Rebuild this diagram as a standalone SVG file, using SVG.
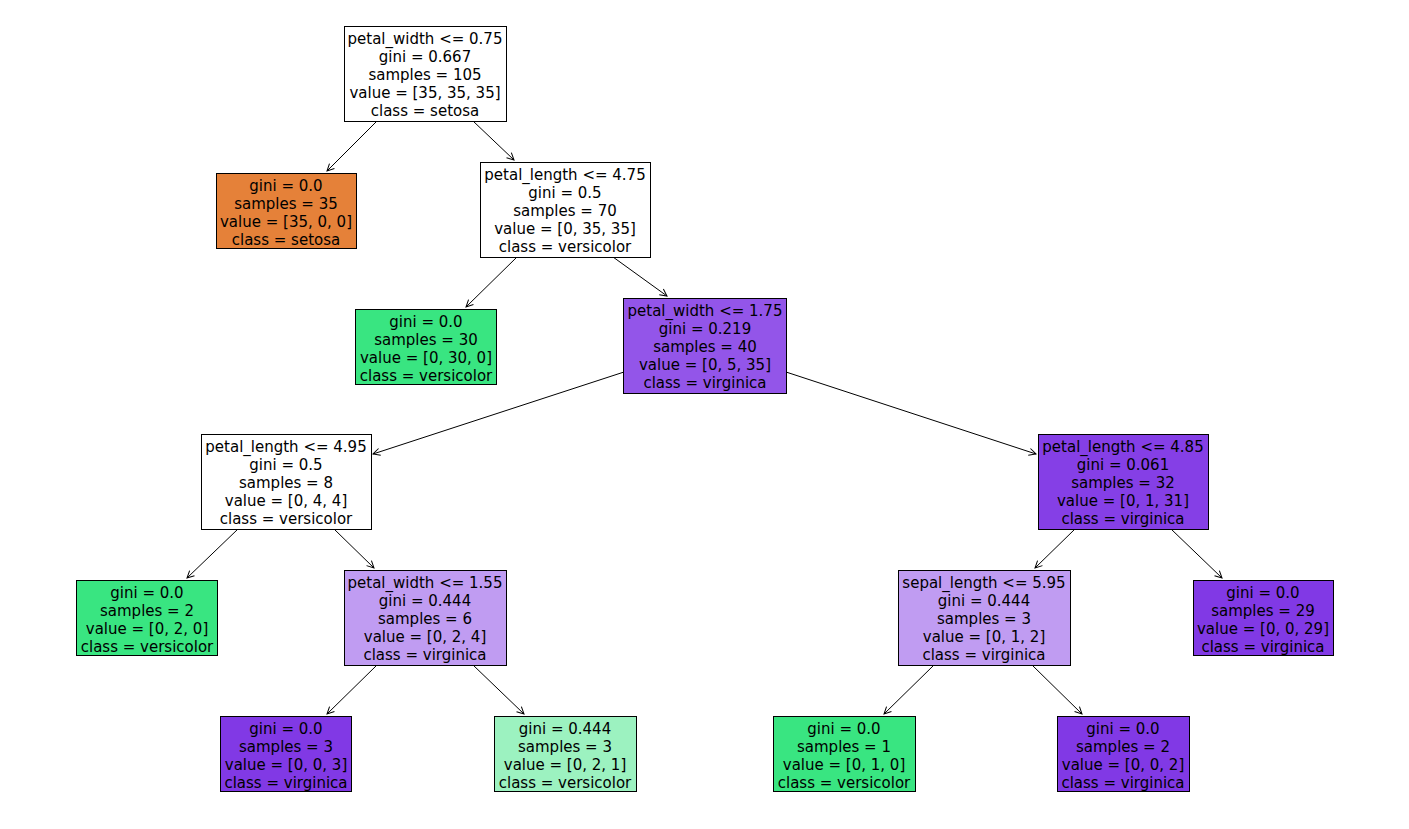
<svg xmlns="http://www.w3.org/2000/svg" width="1409" height="829" viewBox="0 0 1409 829">
<defs>
<marker id="arr" markerUnits="userSpaceOnUse" markerWidth="12" markerHeight="12" refX="7" refY="5" orient="auto" overflow="visible">
<path d="M0,1.5 L7,5 L0,8.5" fill="none" stroke="#000" stroke-width="1"/>
</marker>
</defs>
<style>
rect{stroke:#000;stroke-width:1}
text{font-family:"DejaVu Sans",sans-serif;font-size:15px;fill:#000;text-anchor:middle}
#edges line{stroke:#000;stroke-width:1;marker-end:url(#arr)}
</style>
<rect x="0" y="0" width="1409" height="829" fill="#fff" style="stroke:none"/>
<g id="edges">
<line x1="377" y1="121" x2="327" y2="171"/>
<line x1="473" y1="121" x2="514" y2="160"/>
<line x1="517" y1="257" x2="466" y2="307"/>
<line x1="613" y1="257" x2="667" y2="296"/>
<line x1="624" y1="372" x2="373" y2="454"/>
<line x1="786" y1="372" x2="1036" y2="454"/>
<line x1="238" y1="529" x2="187" y2="578"/>
<line x1="334" y1="529" x2="374" y2="568"/>
<line x1="1075" y1="529" x2="1035" y2="568"/>
<line x1="1171" y1="529" x2="1222" y2="578"/>
<line x1="377" y1="665" x2="327" y2="714"/>
<line x1="473" y1="665" x2="524" y2="714"/>
<line x1="934" y1="665" x2="884" y2="714"/>
<line x1="1032" y1="665" x2="1082" y2="714"/>
</g>
<g id="n0"><rect x="344.5" y="26.5" width="162" height="95" fill="#ffffff"/>
<text x="425" y="43.5">petal_width &lt;= 0.75</text><text x="425" y="61.7">gini = 0.667</text><text x="425" y="79.9">samples = 105</text><text x="425" y="98.1">value = [35, 35, 35]</text><text x="425" y="116.3">class = setosa</text></g>
<g id="n1"><rect x="216.5" y="173.5" width="140" height="75" fill="#e58139"/>
<text x="286" y="190.5">gini = 0.0</text><text x="286" y="208.7">samples = 35</text><text x="286" y="226.9">value = [35, 0, 0]</text><text x="286" y="245.1">class = setosa</text></g>
<g id="n2"><rect x="480.5" y="162.5" width="170" height="95" fill="#ffffff"/>
<text x="565" y="179.5">petal_length &lt;= 4.75</text><text x="565" y="197.7">gini = 0.5</text><text x="565" y="215.9">samples = 70</text><text x="565" y="234.1">value = [0, 35, 35]</text><text x="565" y="252.3">class = versicolor</text></g>
<g id="n3"><rect x="355.5" y="309.5" width="141" height="75" fill="#39e581"/>
<text x="426" y="326.5">gini = 0.0</text><text x="426" y="344.7">samples = 30</text><text x="426" y="362.9">value = [0, 30, 0]</text><text x="426" y="381.1">class = versicolor</text></g>
<g id="n4"><rect x="623.5" y="298.5" width="163" height="95" fill="#9355e9"/>
<text x="705" y="315.5">petal_width &lt;= 1.75</text><text x="705" y="333.7">gini = 0.219</text><text x="705" y="351.9">samples = 40</text><text x="705" y="370.1">value = [0, 5, 35]</text><text x="705" y="388.3">class = virginica</text></g>
<g id="n5"><rect x="201.5" y="434.5" width="170" height="95" fill="#ffffff"/>
<text x="286" y="451.5">petal_length &lt;= 4.95</text><text x="286" y="469.7">gini = 0.5</text><text x="286" y="487.9">samples = 8</text><text x="286" y="506.1">value = [0, 4, 4]</text><text x="286" y="524.3">class = versicolor</text></g>
<g id="n6"><rect x="1038.5" y="434.5" width="170" height="95" fill="#853fe6"/>
<text x="1123" y="451.5">petal_length &lt;= 4.85</text><text x="1123" y="469.7">gini = 0.061</text><text x="1123" y="487.9">samples = 32</text><text x="1123" y="506.1">value = [0, 1, 31]</text><text x="1123" y="524.3">class = virginica</text></g>
<g id="n7"><rect x="76.5" y="580.5" width="141" height="75" fill="#39e581"/>
<text x="147" y="597.5">gini = 0.0</text><text x="147" y="615.7">samples = 2</text><text x="147" y="633.9">value = [0, 2, 0]</text><text x="147" y="652.1">class = versicolor</text></g>
<g id="n8"><rect x="344.5" y="570.5" width="162" height="95" fill="#c09cf2"/>
<text x="425" y="587.5">petal_width &lt;= 1.55</text><text x="425" y="605.7">gini = 0.444</text><text x="425" y="623.9">samples = 6</text><text x="425" y="642.1">value = [0, 2, 4]</text><text x="425" y="660.3">class = virginica</text></g>
<g id="n9"><rect x="898.5" y="570.5" width="172" height="95" fill="#c09cf2"/>
<text x="984" y="587.5">sepal_length &lt;= 5.95</text><text x="984" y="605.7">gini = 0.444</text><text x="984" y="623.9">samples = 3</text><text x="984" y="642.1">value = [0, 1, 2]</text><text x="984" y="660.3">class = virginica</text></g>
<g id="n10"><rect x="1193.5" y="580.5" width="140" height="75" fill="#8139e5"/>
<text x="1263" y="597.5">gini = 0.0</text><text x="1263" y="615.7">samples = 29</text><text x="1263" y="633.9">value = [0, 0, 29]</text><text x="1263" y="652.1">class = virginica</text></g>
<g id="n11"><rect x="220.5" y="716.5" width="131" height="75" fill="#8139e5"/>
<text x="286" y="733.5">gini = 0.0</text><text x="286" y="751.7">samples = 3</text><text x="286" y="769.9">value = [0, 0, 3]</text><text x="286" y="788.1">class = virginica</text></g>
<g id="n12"><rect x="494.5" y="716.5" width="142" height="75" fill="#9cf2c0"/>
<text x="565" y="733.5">gini = 0.444</text><text x="565" y="751.7">samples = 3</text><text x="565" y="769.9">value = [0, 2, 1]</text><text x="565" y="788.1">class = versicolor</text></g>
<g id="n13"><rect x="773.5" y="716.5" width="142" height="75" fill="#39e581"/>
<text x="844" y="733.5">gini = 0.0</text><text x="844" y="751.7">samples = 1</text><text x="844" y="769.9">value = [0, 1, 0]</text><text x="844" y="788.1">class = versicolor</text></g>
<g id="n14"><rect x="1057.5" y="716.5" width="132" height="75" fill="#8139e5"/>
<text x="1123" y="733.5">gini = 0.0</text><text x="1123" y="751.7">samples = 2</text><text x="1123" y="769.9">value = [0, 0, 2]</text><text x="1123" y="788.1">class = virginica</text></g>
</svg>
